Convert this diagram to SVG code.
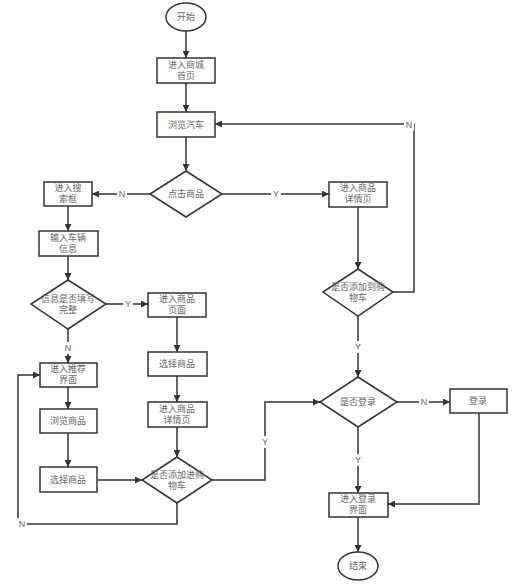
<svg xmlns="http://www.w3.org/2000/svg" width="520" height="584" viewBox="0 0 520 584">
<defs>
<marker id="ah" viewBox="0 0 10 10" refX="10" refY="5" markerWidth="7" markerHeight="7" markerUnits="userSpaceOnUse" orient="auto">
<path d="M0,0 L10,5 L0,10 z" fill="#333"/>
</marker>
<style>
.n{fill:#fff;stroke:#333;stroke-width:1.5}
.t{font-family:"Liberation Sans","Noto Sans CJK SC",sans-serif;font-size:9px;fill:#666;text-anchor:middle}
.l{font-family:"Liberation Sans",sans-serif;font-size:9px;fill:#666;text-anchor:middle}
.c{fill:none;stroke:#333;stroke-width:1.5}
.a{marker-end:url(#ah)}
</style>
</defs>
<rect width="520" height="584" fill="#fff"/>
<g id="connectors">
<path class="c a" d="M186,31 V58"/>
<path class="c a" d="M186,83 V112"/>
<path class="c a" d="M186,137 V171"/>
<path class="c a" d="M222,194 H329"/>
<path class="c a" d="M150,194 H92"/>
<path class="c a" d="M68,206 V231"/>
<path class="c a" d="M68,256 V280"/>
<path class="c a" d="M106,304 H148"/>
<path class="c a" d="M68,329 V363"/>
<path class="c a" d="M177,317 V352"/>
<path class="c a" d="M177,376 V402"/>
<path class="c a" d="M177,427 V457"/>
<path class="c a" d="M68,387 V409"/>
<path class="c a" d="M68,433 V467"/>
<path class="c a" d="M97,480 H142"/>
<path class="c a" d="M177,503 V524 H18 V375 H40"/>
<path class="c a" d="M358,207 V269"/>
<path class="c a" d="M393,292 H414 V124 H215"/>
<path class="c a" d="M358,316 V377"/>
<path class="c a" d="M212,480 H265 V402 H320"/>
<path class="c a" d="M397,402 H450"/>
<path class="c a" d="M358,427 V493"/>
<path class="c a" d="M479,413 V504 H388"/>
<path class="c a" d="M358,517 V552"/>
<rect x="117" y="188" width="10" height="12" fill="#fff"/>
<text class="l" x="122" y="197">N</text>
<rect x="271" y="188" width="10" height="12" fill="#fff"/>
<text class="l" x="276" y="197">Y</text>
<rect x="123" y="298" width="10" height="12" fill="#fff"/>
<text class="l" x="128" y="307">Y</text>
<rect x="63" y="342" width="10" height="12" fill="#fff"/>
<text class="l" x="68" y="351">N</text>
<rect x="17" y="518" width="10" height="12" fill="#fff"/>
<text class="l" x="22" y="527">N</text>
<rect x="404" y="119" width="10" height="12" fill="#fff"/>
<text class="l" x="409" y="128">N</text>
<rect x="353" y="341" width="10" height="12" fill="#fff"/>
<text class="l" x="358" y="350">Y</text>
<rect x="260" y="436" width="10" height="12" fill="#fff"/>
<text class="l" x="265" y="445">Y</text>
<rect x="419" y="396" width="10" height="12" fill="#fff"/>
<text class="l" x="424" y="405">N</text>
<rect x="353" y="454" width="10" height="12" fill="#fff"/>
<text class="l" x="358" y="463">Y</text>
</g>
<g id="start"><ellipse class="n" cx="186" cy="17" rx="20" ry="14"/><text class="t" x="186" y="20">开始</text></g>
<g id="home"><rect class="n" x="157" y="58" width="58" height="25"/><text class="t" x="186" y="68">进入商城<tspan x="186" dy="11">首页</tspan></text></g>
<g id="browseCar"><rect class="n" x="157" y="112" width="58" height="25"/><text class="t" x="186" y="128">浏览汽车</text></g>
<g id="clickItem"><polygon class="n" points="186,171 222,194 186,217 150,194"/><text class="t" x="186" y="197">点击商品</text></g>
<g id="search"><rect class="n" x="44" y="182" width="48" height="24"/><text class="t" x="68" y="191">进入搜<tspan x="68" dy="11">索框</tspan></text></g>
<g id="detail1"><rect class="n" x="329" y="182" width="58" height="25"/><text class="t" x="358" y="191">进入商品<tspan x="358" dy="11">详情页</tspan></text></g>
<g id="input"><rect class="n" x="39" y="231" width="59" height="25"/><text class="t" x="68" y="241">输入车辆<tspan x="68" dy="11">信息</tspan></text></g>
<g id="complete"><polygon class="n" points="68,280 106,304 68,329 31,304"/><text class="t" x="68" y="302">信息是否填写<tspan x="68" dy="11">完整</tspan></text></g>
<g id="itemPage"><rect class="n" x="148" y="293" width="58" height="24"/><text class="t" x="177" y="302">进入商品<tspan x="177" dy="11">页面</tspan></text></g>
<g id="addCart1"><polygon class="n" points="358,269 393,292 358,316 323,292"/><text class="t" x="358" y="290">是否添加到购<tspan x="358" dy="11">物车</tspan></text></g>
<g id="select2"><rect class="n" x="148" y="352" width="59" height="24"/><text class="t" x="177" y="367">选择商品</text></g>
<g id="recommend"><rect class="n" x="40" y="363" width="57" height="24"/><text class="t" x="68" y="372">进入推荐<tspan x="68" dy="11">界面</tspan></text></g>
<g id="isLogin"><polygon class="n" points="358,377 397,402 358,427 320,402"/><text class="t" x="358" y="405">是否登录</text></g>
<g id="login"><rect class="n" x="450" y="389" width="57" height="24"/><text class="t" x="478" y="404">登录</text></g>
<g id="detail2"><rect class="n" x="148" y="402" width="59" height="25"/><text class="t" x="177" y="412">进入商品<tspan x="177" dy="11">详情页</tspan></text></g>
<g id="browseItem"><rect class="n" x="40" y="409" width="57" height="24"/><text class="t" x="68" y="424">浏览商品</text></g>
<g id="addCart2"><polygon class="n" points="177,457 212,480 177,503 142,480"/><text class="t" x="177" y="478">是否添加进购<tspan x="177" dy="11">物车</tspan></text></g>
<g id="select1"><rect class="n" x="40" y="467" width="57" height="25"/><text class="t" x="68" y="483">选择商品</text></g>
<g id="loginPage"><rect class="n" x="329" y="493" width="59" height="24"/><text class="t" x="358" y="502">进入登录<tspan x="358" dy="11">界面</tspan></text></g>
<g id="end"><ellipse class="n" cx="358" cy="566" rx="20" ry="14"/><text class="t" x="358" y="569">结束</text></g>
</svg>
